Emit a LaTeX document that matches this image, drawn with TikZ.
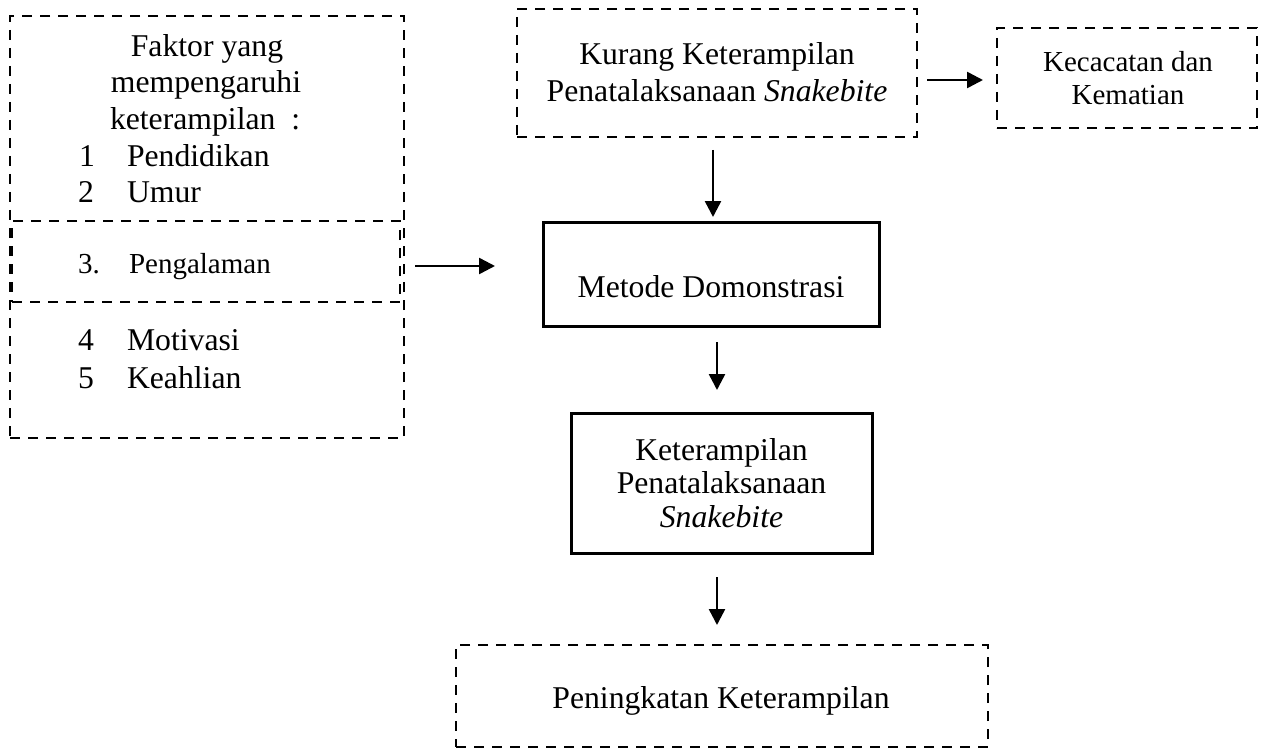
\documentclass[tikz,border=0pt]{standalone}
\usepackage{fontspec}
\setmainfont{Liberation Serif}
\usetikzlibrary{arrows.meta}
\begin{document}
\begin{tikzpicture}[x=1pt,y=-1pt,
  every node/.style={font=\fontsize{31.7}{37}\selectfont, inner sep=0pt, outer sep=0pt},
  dbox/.style={draw, line width=2.8pt, dash pattern=on 10pt off 8pt, rectangle, align=center},
  sbox/.style={draw, line width=3pt, rectangle, align=center},
  smallfont/.style={font=\fontsize{29}{33}\selectfont},
  arr/.style={line width=2.5pt, -{Triangle[length=16pt,width=16pt]}},
  txt/.style={anchor=base}
]
\useasboundingbox (0,0) rectangle (1267,749);

% left box
\node[dbox, minimum width=394pt, minimum height=422pt] (left) at (207,227) {};
\node[dbox, minimum width=388pt, minimum height=81pt] (inner) at (206,261.5) {};
\node[txt] (l1) at (207,57) {Faktor yang};
\node[txt] (l2) at (206,93) {mempengaruhi};
\node[anchor=base west] (l3) at (110,130) {keterampilan\ \ :};
\node[anchor=base west] (n1) at (79,167) {1};
\node[anchor=base west] (w1) at (127,167) {Pendidikan};
\node[anchor=base west] (n2) at (78,203) {2};
\node[anchor=base west] (w2) at (127,203) {Umur};
\node[anchor=base west, smallfont] (n3) at (78,273) {3.};
\node[anchor=base west, smallfont] (w3) at (129,273) {Pengalaman};
\node[anchor=base west] (n4) at (78,350) {4};
\node[anchor=base west] (w4) at (127,350) {Motivasi};
\node[anchor=base west] (n5) at (78,388) {5};
\node[anchor=base west] (w5) at (127,388) {Keahlian};

% top box
\node[dbox, minimum width=400pt, minimum height=128pt] (top) at (717,73) {};
\node[txt] (tt1) at (717,65) {Kurang Keterampilan};
\node[txt] (tt2) at (717,102) {Penatalaksanaan \textit{Snakebite}};

% kecacatan box
\node[dbox, minimum width=260pt, minimum height=100pt] (kec) at (1127,78) {};
\node[txt, smallfont] (k1) at (1128,72) {Kecacatan dan};
\node[txt, smallfont] (k2) at (1128,105) {Kematian};

% metode box
\node[sbox, minimum width=336pt, minimum height=104pt] (metode) at (711,274) {};
\node[txt] (m1) at (711,297) {Metode Domonstrasi};

% keterampilan box
\node[sbox, minimum width=301pt, minimum height=140pt] (ket) at (721.5,483) {};
\node[txt] (e1) at (721.5,460) {Keterampilan};
\node[txt] (e2) at (721.5,493.5) {Penatalaksanaan};
\node[txt] (e3) at (721.5,527) {\textit{Snakebite}};

% bottom box
\node[dbox, minimum width=532pt, minimum height=102pt] (bot) at (722,696) {};
\node[txt] (b1) at (721,708) {Peningkatan Keterampilan};

% arrows
\draw[arr, shorten <=13pt, shorten >=5pt] ([xshift=-4pt]top.south) -- ([xshift=-4pt]top.south |- metode.north);
\draw[arr, shorten <=10pt, shorten >=14pt] ([yshift=-2pt]kec.west -| top.east) -- ([yshift=-2pt]kec.west);
\draw[arr, shorten <=11pt, shorten >=48pt] ([yshift=8pt]metode.west -| left.east) -- ([yshift=8pt]metode.west);
\draw[arr, shorten <=16pt, shorten >=23pt] ([xshift=6pt]metode.south) -- ([xshift=6pt]metode.south |- ket.north);
\draw[arr, shorten <=24pt, shorten >=20pt] ([xshift=-4.5pt]ket.south) -- ([xshift=-4.5pt]ket.south |- bot.north);
\end{tikzpicture}
\end{document}
